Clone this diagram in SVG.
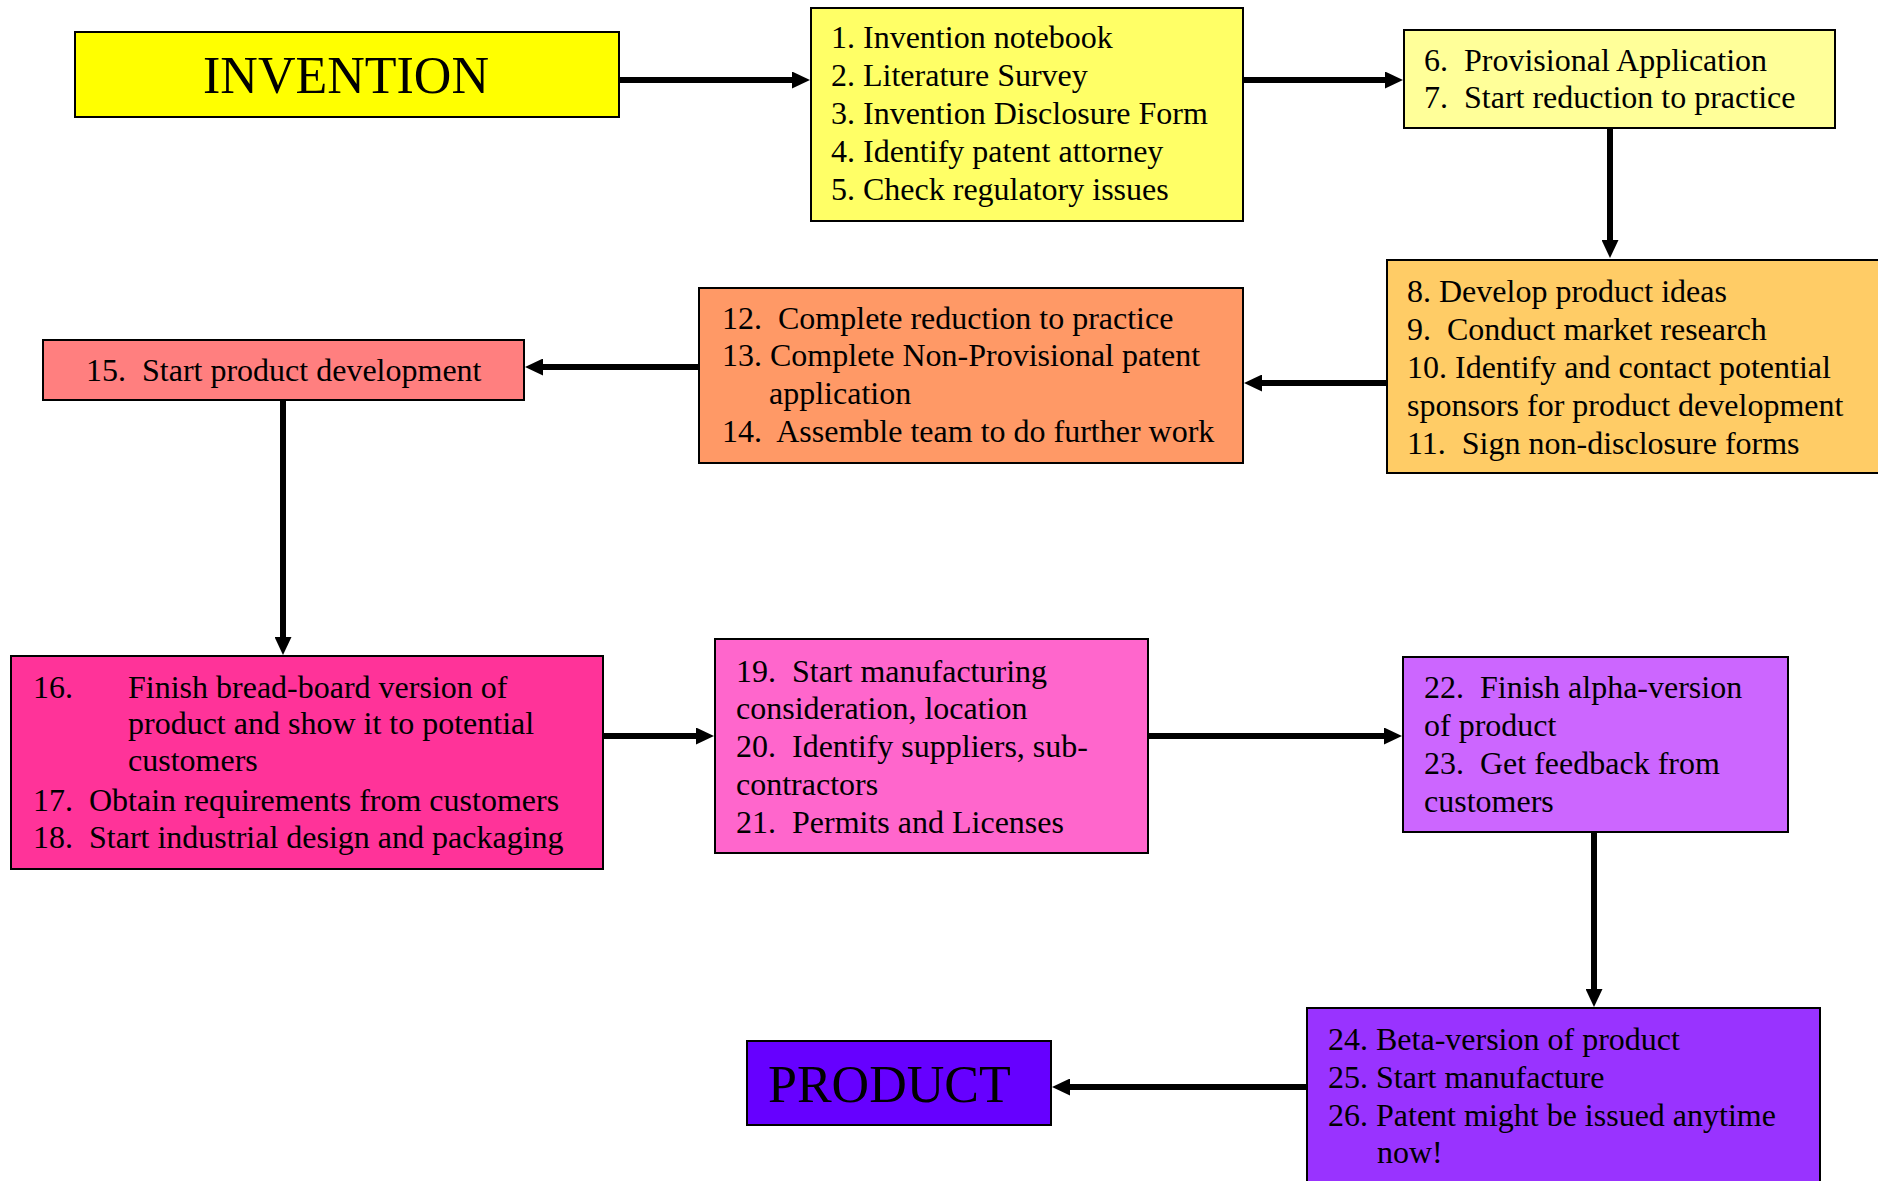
<svg xmlns="http://www.w3.org/2000/svg" width="1878" height="1181" viewBox="0 0 1878 1181">
<style>
.box{stroke:#000;stroke-width:2}
.t{font-family:"Liberation Serif","Times New Roman",serif;font-size:32px;fill:#000}
.big{font-family:"Liberation Serif","Times New Roman",serif;font-size:52px;fill:#000}
.c{fill:none;stroke:#000;stroke-width:6}
</style>
<defs>
<marker id="ah" markerUnits="userSpaceOnUse" markerWidth="18" markerHeight="17" viewBox="0 0 18 17" refX="1" refY="8.5" orient="auto">
<path d="M0,0 L18,8.5 L0,17 z" fill="#000"/>
</marker>
</defs>
<rect width="1878" height="1181" fill="#fff"/>
<g id="invention">
<rect class="box" x="75" y="32" width="544" height="85" fill="#FFFF00"/>
<text class="big" x="346" y="93" text-anchor="middle">INVENTION</text>
</g>
<g id="step1-5">
<rect class="box" x="811" y="8" width="432" height="213" fill="#FFFF66"/>
<text class="t" xml:space="preserve"><tspan x="831" y="48">1. Invention notebook</tspan><tspan x="831" y="86">2. Literature Survey</tspan><tspan x="831" y="124">3. Invention Disclosure Form</tspan><tspan x="831" y="162">4. Identify patent attorney</tspan><tspan x="831" y="200">5. Check regulatory issues</tspan></text>
</g>
<g id="step6-7">
<rect class="box" x="1404" y="30" width="431" height="98" fill="#FFFF99"/>
<text class="t" xml:space="preserve"><tspan x="1424" y="71">6.  Provisional Application</tspan><tspan x="1424" y="108">7.  Start reduction to practice</tspan></text>
</g>
<g id="step8-11">
<rect class="box" x="1387" y="260" width="500" height="213" fill="#FFCC66"/>
<text class="t" xml:space="preserve"><tspan x="1407" y="302">8. Develop product ideas</tspan><tspan x="1407" y="340">9.  Conduct market research</tspan><tspan x="1407" y="378">10. Identify and contact potential</tspan><tspan x="1407" y="416">sponsors for product development</tspan><tspan x="1407" y="454">11.  Sign non-disclosure forms</tspan></text>
</g>
<g id="step12-14">
<rect class="box" x="699" y="288" width="544" height="175" fill="#FF9966"/>
<text class="t" xml:space="preserve"><tspan x="722" y="329">12.  Complete reduction to practice</tspan><tspan x="722" y="366">13. Complete Non-Provisional patent</tspan><tspan x="769" y="404">application</tspan><tspan x="722" y="442">14.  Assemble team to do further work</tspan></text>
</g>
<g id="step15">
<rect class="box" x="43" y="340" width="481" height="60" fill="#FF7F7F"/>
<text class="t" xml:space="preserve" x="86" y="381">15.  Start product development</text>
</g>
<g id="step16-18">
<rect class="box" x="11" y="656" width="592" height="213" fill="#FF3399"/>
<text class="t" xml:space="preserve"><tspan x="33" y="698">16.</tspan><tspan x="128" y="698">Finish bread-board version of</tspan><tspan x="128" y="734">product and show it to potential</tspan><tspan x="128" y="771">customers</tspan><tspan x="33" y="811">17.  Obtain requirements from customers</tspan><tspan x="33" y="848">18.  Start industrial design and packaging</tspan></text>
</g>
<g id="step19-21">
<rect class="box" x="715" y="639" width="433" height="214" fill="#FF66CC"/>
<text class="t" xml:space="preserve"><tspan x="736" y="682">19.  Start manufacturing</tspan><tspan x="736" y="719">consideration, location</tspan><tspan x="736" y="757">20.  Identify suppliers, sub-</tspan><tspan x="736" y="795">contractors</tspan><tspan x="736" y="833">21.  Permits and Licenses</tspan></text>
</g>
<g id="step22-23">
<rect class="box" x="1403" y="657" width="385" height="175" fill="#CC66FF"/>
<text class="t" xml:space="preserve"><tspan x="1424" y="698">22.  Finish alpha-version</tspan><tspan x="1424" y="736">of product</tspan><tspan x="1424" y="774">23.  Get feedback from</tspan><tspan x="1424" y="812">customers</tspan></text>
</g>
<g id="step24-26">
<rect class="box" x="1307" y="1008" width="513" height="190" fill="#9933FF"/>
<text class="t" xml:space="preserve"><tspan x="1328" y="1050">24. Beta-version of product</tspan><tspan x="1328" y="1088">25. Start manufacture</tspan><tspan x="1328" y="1126">26. Patent might be issued anytime</tspan><tspan x="1377" y="1163">now!</tspan></text>
</g>
<g id="product">
<rect class="box" x="747" y="1041" width="304" height="84" fill="#6600FF"/>
<text class="big" x="768" y="1102">PRODUCT</text>
</g>
<g id="connectors">
<path class="c" d="M619,80 H793" marker-end="url(#ah)"/>
<path class="c" d="M1243,80 H1386" marker-end="url(#ah)"/>
<path class="c" d="M1610,128 V241" marker-end="url(#ah)"/>
<path class="c" d="M1387,383 H1261" marker-end="url(#ah)"/>
<path class="c" d="M699,367 H542" marker-end="url(#ah)"/>
<path class="c" d="M283,400 V638" marker-end="url(#ah)"/>
<path class="c" d="M603,736 H697" marker-end="url(#ah)"/>
<path class="c" d="M1148,736 H1385" marker-end="url(#ah)"/>
<path class="c" d="M1594,832 V990" marker-end="url(#ah)"/>
<path class="c" d="M1307,1087 H1069" marker-end="url(#ah)"/>
</g>
</svg>
